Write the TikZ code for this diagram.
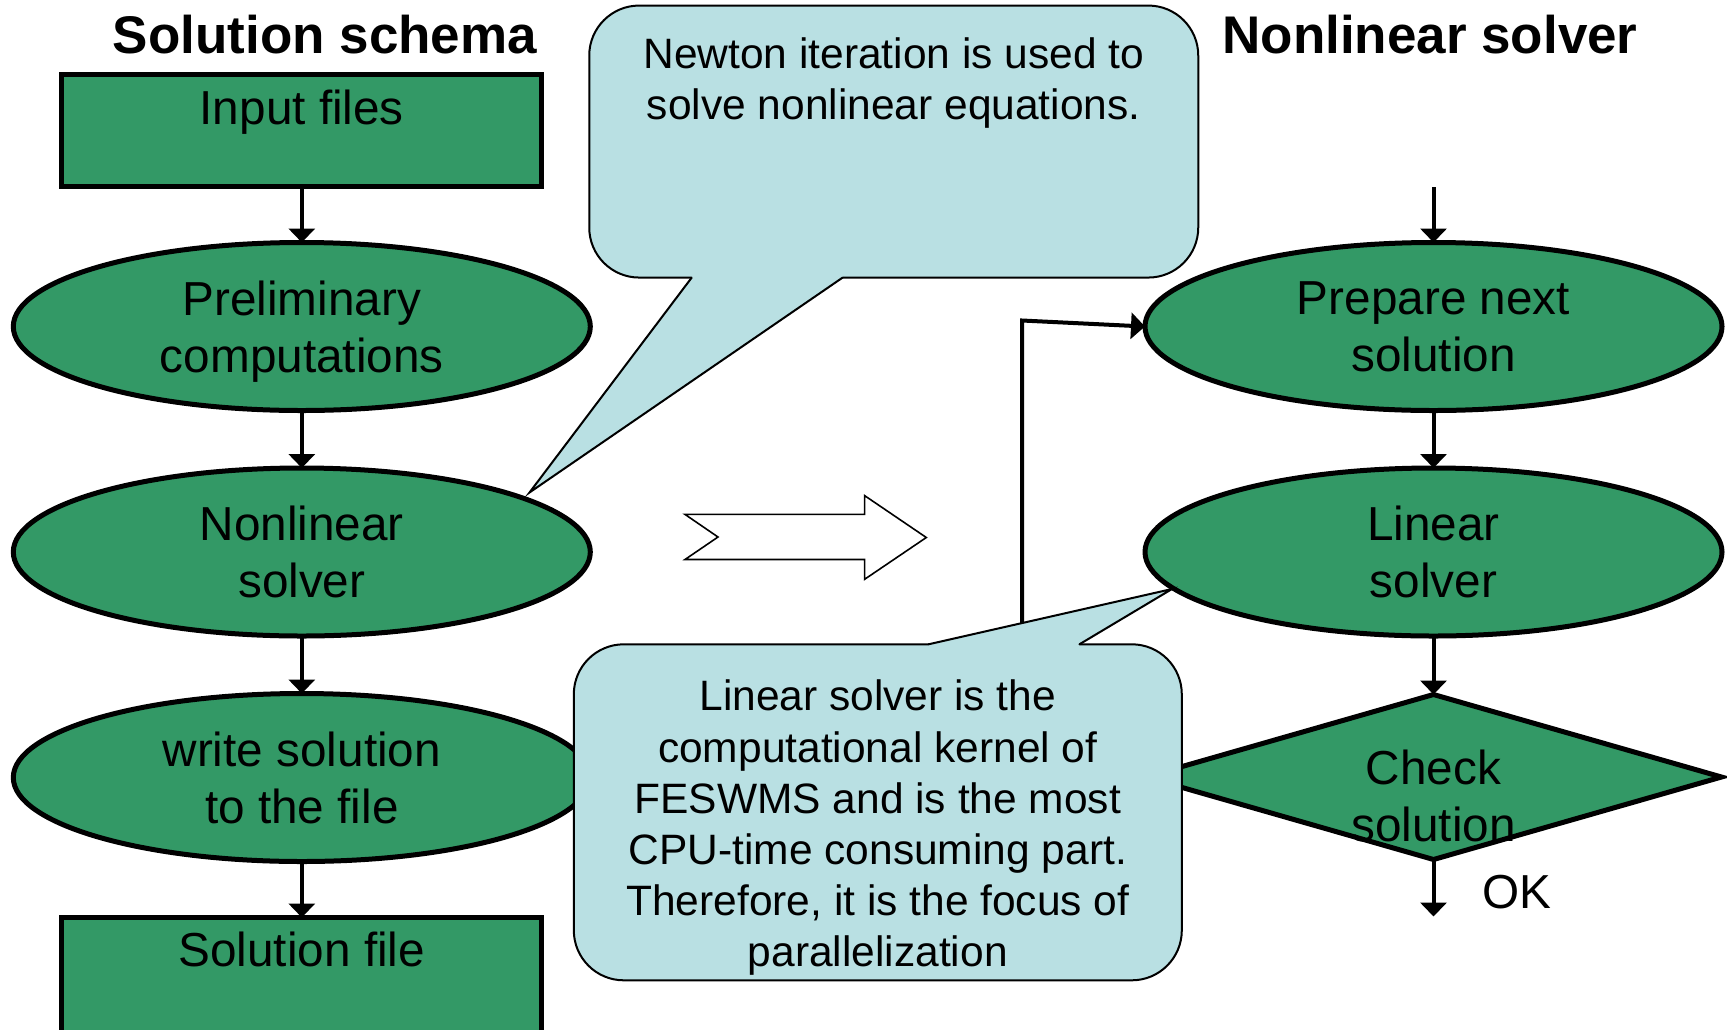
\documentclass[tikz,border=0pt]{standalone}
\usepackage{fontspec}
\setmainfont{Liberation Sans}
\usetikzlibrary{shapes.geometric,arrows.meta,calc}
\definecolor{flowgreen}{RGB}{51,153,102}
\definecolor{noteblue}{RGB}{185,224,227}

\begin{document}
\begin{tikzpicture}[x=1pt,y=-1pt,
  every node/.style={inner sep=0pt, outer sep=0pt},
  stepfont/.style={font=\fontsize{47.7}{57}\selectfont},
  procell/.style={ellipse, draw=black, line width=5pt, fill=flowgreen,
    minimum width=577pt, minimum height=168pt, align=center, stepfont},
  filebox/.style={rectangle, draw=black, line width=5pt, fill=flowgreen,
    minimum width=480pt, minimum height=112pt},
  decision/.style={diamond, draw=black, line width=5pt, fill=flowgreen,
    minimum width=576pt, minimum height=165pt},
  flow/.style={line width=4pt, line join=miter, -{Triangle[width=26pt,length=14pt]}},
  notebox/.style={rectangle, draw=black, line width=2pt, fill=noteblue, rounded corners=50pt},
  noteedge/.style={draw=black, line width=2pt, line join=miter, line cap=round},
  notetext/.style={align=center, font=\fontsize{42.5}{51.1}\selectfont},
  heading/.style={font=\fontsize{53}{60}\selectfont\bfseries, anchor=base},
  hollow/.style={draw=black, line width=1.6pt, fill=white, line join=miter}
]
\useasboundingbox (0,0) rectangle (1727,1029);
\clip (0,0) rectangle (1727,1029);

% headings
\node[heading] (lefthead) at (325,53) {Solution schema};
\node[heading] (righthead) at (1430,53) {Nonlinear solver};

% overall solution schema
\node[filebox] (input) at (301.8,130) {};
\node[stepfont, anchor=base] (inputlbl) at (301.8,124) {Input files};
\node[procell] (prelim) at (301.8,326.5) {Preliminary\\\smash{computations}};
\node[procell] (nonlin) at (301.8,552) {Nonlinear\\solver};
\node[procell] (writeout) at (301.8,777.5) {write solution\\to the file};
\node[filebox, minimum height=127.5pt] (solfile) at (301.8,981.25) {};
\node[stepfont, anchor=base] (sollbl) at (301.8,966) {Solution file};

\draw[flow] (input.south) -- (prelim.north);
\draw[flow] (prelim.south) -- (nonlin.north);
\draw[flow] (nonlin.south) -- (writeout.north);
\draw[flow] (writeout.south) -- (solfile.north);

% nonlinear solver loop
\coordinate (entry) at (1433.5,187);
\node[procell] (prep) at (1433.5,326.5) {Prepare next\\solution};
\node[procell] (linsolve) at (1433.5,552) {Linear\\solver};
\node[decision] (check) at (1433.5,777) {};
\node[stepfont, align=center] (checklbl) at (1433.5,796) {Check\\solution};
\coordinate (okend) at (1433.5,916.5);
\node[stepfont, anchor=base] (oklbl) at (1517,908) {OK};

\draw[flow] (entry) -- (prep.north);
\draw[flow] (prep.south) -- (linsolve.north);
\draw[flow] (linsolve.south) -- (check.north);
\draw[flow] (check.south) -- (okend);
\coordinate (loopup) at (1022,320.5);
\draw[flow] (check.west) -| (loopup) -- (prep.west);

% hollow block arrow between the two schemes
\draw[hollow] (685,514.4) -- (864.6,514.4) -- (864.6,495.6) -- (926.3,537.5)
  -- (864.6,579.3) -- (864.6,559.5) -- (685,559.5) -- (718,537) -- cycle;

% note on the nonlinear solver
\node[notebox, minimum width=609pt, minimum height=272pt] (newtonbox) at (893.75,141.55) {};
\coordinate (nt1) at (691.7,277.6);
\coordinate (nt2) at (842.6,277.6);
\coordinate (newtontip) at (529.5,492.5);
\fill[noteblue] (nt1) -- (newtontip) -- (nt2) -- ($(nt2)+(0,-4)$) -- ($(nt1)+(0,-4)$) -- cycle;
\draw[noteedge] (nt1) -- (newtontip) -- (nt2);
\node[notetext] (newtontxt) at (893.75,83.4) {Newton iteration is used to\\solve nonlinear equations.};

% note on the linear solver
\node[notebox, minimum width=608pt, minimum height=336pt] (kernelbox) at (877.8,812.3) {};
\coordinate (lt1) at (928.5,644.3);
\coordinate (lt2) at (1079.4,644.3);
\coordinate (lineartip) at (1172,589);
\fill[noteblue] (lt1) -- (lineartip) -- (lt2) -- ($(lt2)+(0,4)$) -- ($(lt1)+(0,4)$) -- cycle;
\draw[noteedge] (lt1) -- (lineartip) -- (lt2);
\node[notetext] (kerneltxt) at (877.8,827.7) {Linear solver is the\\computational kernel of\\FESWMS and is the most\\CPU-time consuming part.\\Therefore, it is the focus of\\parallelization};
\end{tikzpicture}
\end{document}
